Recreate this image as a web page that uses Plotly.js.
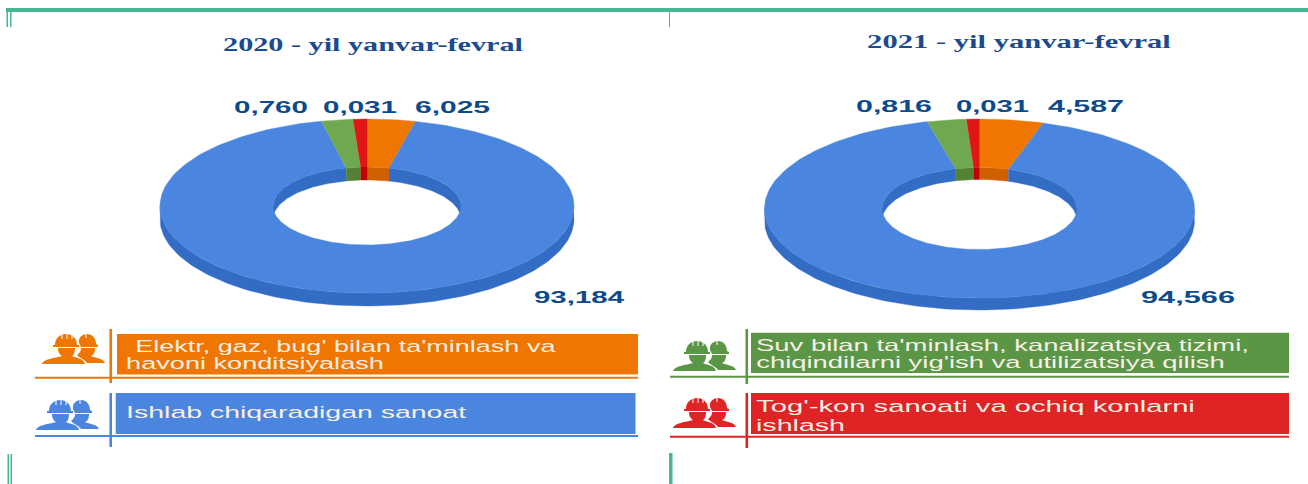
<!DOCTYPE html>
<html><head><meta charset="utf-8">
<script src="https://cdn.plot.ly/plotly-3.0.1.min.js"></script>
<style>html,body{margin:0;padding:0;background:#fff}#c{width:1308px;height:484px}</style>
</head><body><div id="c"></div>
<script>
// Values as printed on the chart
const categories = ["Elektr, gaz, bug' bilan ta'minlash va havoni konditsiyalash", "Ishlab chiqaradigan sanoat", "Suv bilan ta'minlash, kanalizatsiya tizimi, chiqindilarni yig'ish va utilizatsiya qilish", "Tog'-kon sanoati va ochiq konlarni ishlash"];
const printed2020 = ["6,025", "93,184", "0,760", "0,031"];
const printed2021 = ["4,587", "94,566", "0,816", "0,031"];
// Slice shares (% of the ring, clockwise from 12 o'clock)
const shares2020 = [3.75, 92.70, 2.47, 1.08];
const shares2021 = [4.78, 91.31, 2.94, 0.97];
const titles = ["2020 - yil yanvar-fevral", "2021 - yil yanvar-fevral"];

const topColors = ["#ef7600", "#4a86df", "#70a850", "#e01515"];
const wallColors = ["#d05f00", "#326cc4", "#548235", "#c00000"];
const legendColors = ["#ef7600", "#4a86df", "#5b9647", "#de2424"];
const labelColor = "#0d4a8c", titleColor = "#1a4a90", frame = "#45b795";

const traces = [];
function poly(xs, ys, color, name) {
  traces.push({type:"scatter", mode:"lines", x:xs, y:ys, fill:"toself", fillcolor:color,
    line:{color:color, width:0.4}, name:name, hoverinfo:"name", showlegend:false});
}
function arc(g, rx, ry, a0, a1, dy) {
  const n = Math.max(2, Math.ceil(Math.abs(a1 - a0) / 1.5));
  const xs = [], ys = [];
  for (let i = 0; i <= n; i++) {
    const t = (a0 + (a1 - a0) * i / n) * Math.PI / 180;
    xs.push(g.cx + rx * Math.sin(t));
    ys.push(g.cy - ry * Math.cos(t) + (dy || 0));
  }
  return [xs, ys];
}
function band(g, rxA, ryA, dyA, rxB, ryB, dyB, a0, a1, color, name) {
  const A = arc(g, rxA, ryA, a0, a1, dyA), B = arc(g, rxB, ryB, a1, a0, dyB);
  poly(A[0].concat(B[0]), A[1].concat(B[1]), color, name);
}
function donut(g, shares) {
  // outer side, lower half
  band(g, g.rx, g.ry, 0, g.rx, g.ry, g.depth, 90, 270, wallColors[1], categories[1]);
  // inner wall, upper half only
  let a = 0;
  const spans = shares.map(s => { const r = [a, a + s * 3.6]; a += s * 3.6; return r; });
  spans.forEach((sp, i) => {
    const pieces = i === 1 ? [[sp[0], 90], [270, sp[1]]] : [sp];
    pieces.forEach(p => band(g, g.hx, g.hy, 0, g.hx, g.hy, g.depth, p[0], p[1], wallColors[i], categories[i]));
  });
  // top surface
  spans.forEach((sp, i) => band(g, g.rx, g.ry, 0, g.hx, g.hy, 0, sp[0], sp[1], topColors[i], categories[i]));
}
donut({cx:367, cy:206, rx:207, ry:87, hx:94, hy:39, depth:13}, shares2020);
donut({cx:979.5, cy:208.5, rx:215, ry:89.5, hx:97.5, hy:41, depth:12}, shares2021);

const shapes = [], annotations = [], targetWidths = [];
function rect(x0, y0, x1, y1, c) {
  shapes.push({type:"rect", xref:"x", yref:"y", x0, y0, x1, y1, fillcolor:c, line:{width:0}, layer:"above"});
}
// Every text is left-anchored and then widened to the span it has in the (horizontally stretched) reference.
function label(text, x0, x1, y, font) {
  annotations.push({text, x:x0, y, xref:"x", yref:"y", xanchor:"left", yanchor:"middle", showarrow:false, font, borderpad:0, borderwidth:0});
  targetWidths.push(x1 - x0);
}
// frame
rect(6, 8, 1308, 12, frame);
rect(6.5, 8, 8, 27, frame); rect(10, 8, 11.5, 27, frame);
rect(669, 11, 670, 27, frame);
rect(7.5, 454, 9, 484, frame); rect(10.5, 454, 12, 484, frame);
rect(669, 453, 672.5, 484, frame);

// titles
const titleFont = {family:"Liberation Serif", size:18.5, color:titleColor, weight:700};
label(titles[0], 223, 523, 45, titleFont);
label(titles[1], 867, 1171, 42, titleFont);

// value labels
const numFont = {family:"Liberation Sans", size:17, color:labelColor, weight:700};
const pos2020 = [[415,490,107],[534,625,297],[234,308,107],[323,397,107]];
const pos2021 = [[1048,1124,106],[1141,1235,297],[856,932,106],[956,1029,106]];
printed2020.forEach((t,i)=>label(t, pos2020[i][0], pos2020[i][1], pos2020[i][2], numFont));
printed2021.forEach((t,i)=>label(t, pos2021[i][0], pos2021[i][1], pos2021[i][2], numFont));

// legend rows
const rows = [
 {c:0, box:[117,334,638,374.5], h:[35,638,377.7], v:[110.7,329,383], lines:[["Elektr, gaz, bug' bilan ta'minlash va",135,557,346],["havoni konditsiyalash",126,384,363]], icon:[0,0]},
 {c:1, box:[115.7,393,635.5,434], h:[35,638,436], v:[110.7,393,447], lines:[["Ishlab chiqaradigan sanoat",126,467,412]], icon:[-6,66]},
 {c:2, box:[751,332.7,1289,373], h:[670,1289,376.7], v:[746.8,329,384], lines:[["Suv bilan ta'minlash, kanalizatsiya tizimi,",756,1249,345],["chiqindilarni yig'ish va utilizatsiya qilish",756,1225,362]], icon:[631,7]},
 {c:3, box:[751,393,1289,434], h:[670,1289,436.7], v:[746.8,393,448], lines:[["Tog'-kon sanoati va ochiq konlarni",756,1195,406],["ishlash",756,845,425]], icon:[631,64]}
];
const legFont = {family:"Liberation Sans", size:16.5, color:"#f8efe6"};
function iconShapes(dx, dy, c) {
  const P = (x,y) => (x+dx)+","+(y+dy);
  const paths = [
   // front worker
   `M${P(55,345)} C${P(55,338)} ${P(60,334)} ${P(66,334)} C${P(72,334)} ${P(77,338)} ${P(77,345)} L${P(79,345)} L${P(79,347)} L${P(53,347)} L${P(53,345)} Z`,
   `M${P(58,348)} L${P(75,348)} C${P(75,352)} ${P(74,355)} ${P(72,356)} C${P(75,358)} ${P(84,358)} ${P(85,364)} L${P(42,364)} C${P(43,359)} ${P(55,358)} ${P(62,356)} C${P(59,354)} ${P(58,352)} ${P(58,348)} Z`,
   // rear worker
   `M${P(79,343)} C${P(78,337)} ${P(83,334)} ${P(87,334)} C${P(92,334)} ${P(96,338)} ${P(96,344)} L${P(98,345)} L${P(98,347)} L${P(81,347)} Z`,
   `M${P(81,348)} L${P(95,348)} C${P(95,352)} ${P(94,355)} ${P(91,356)} C${P(95,358)} ${P(103,358)} ${P(105,363)} L${P(87,363)} C${P(86,360)} ${P(79,358)} ${P(77,355)} C${P(79,353)} ${P(81,352)} ${P(81,348)} Z`
  ];
  paths.forEach(p => shapes.push({type:"path", xref:"x", yref:"y", path:p, fillcolor:c, line:{width:0}, layer:"above"}));
  [[62,334,62,339],[67,333,67,339],[72,334,72,339],[86,333,86,338]].forEach(l =>
    shapes.push({type:"line", xref:"x", yref:"y", x0:l[0]+dx, y0:l[1]+dy, x1:l[2]+dx, y1:l[3]+dy, line:{color:"#ffffff", width:1}, layer:"above"}));
}
rows.forEach(r => {
  const c = legendColors[r.c];
  rect(r.box[0], r.box[1], r.box[2], r.box[3], c);
  rect(r.h[0], r.h[2]-1, r.h[1], r.h[2]+1, c);
  rect(r.v[0]-1.3, r.v[1], r.v[0]+1.3, r.v[2], c);
  r.lines.forEach(l => label(l[0], l[1], l[2], l[3], legFont));
  iconShapes(r.icon[0], r.icon[1], c);
});

Plotly.newPlot("c", traces, {
  width:1308, height:484, margin:{l:0,r:0,t:0,b:0,pad:0},
  paper_bgcolor:"#ffffff", plot_bgcolor:"#ffffff", showlegend:false,
  xaxis:{range:[0,1308], visible:false, fixedrange:true},
  yaxis:{range:[484,0], visible:false, fixedrange:true},
  shapes, annotations
}, {displayModeBar:false, staticPlot:true}).then(() => {
  document.querySelectorAll("#c .annotation-text").forEach((el, i) => {
    const b = el.getBBox();
    const s = targetWidths[i] / b.width;
    const old = el.getAttribute("transform") || "";
    el.setAttribute("transform", `translate(${b.x * (1 - s)},0) scale(${s},1) ${old}`);
  });
});
</script></body></html>
